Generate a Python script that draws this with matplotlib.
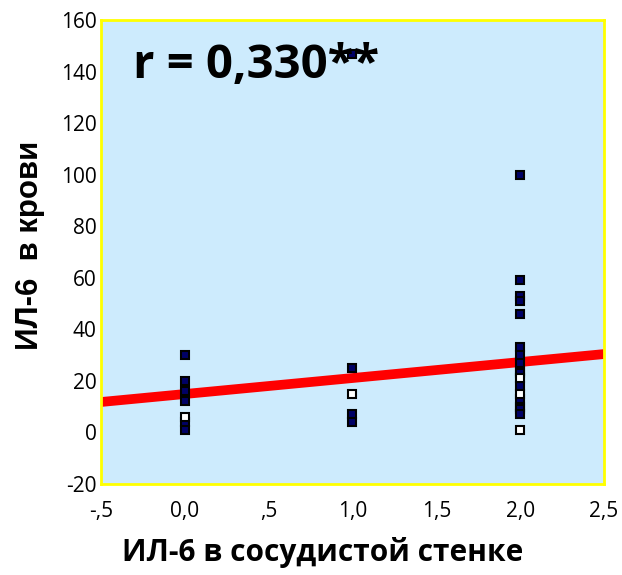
import matplotlib.pyplot as plt

plt.rcParams["axes.unicode_minus"] = False

# значения
x0_filled = [30, 20, 16, 12, 4, 1]
x0_hollow = [6]
x1_filled = [147, 25, 7, 4]
x1_hollow = [15]
x2_filled = [100, 59, 53, 51, 46, 33, 30, 27, 24, 23, 18, 13, 10, 9, 7]
x2_hollow = [21, 15, 1]

fit_x = [-0.5, 2.5]
fit_y = [11.8, 30.4]

xticks = [-0.5, 0.0, 0.5, 1.0, 1.5, 2.0, 2.5]
xtick_labels = ["-,5", "0,0", ",5", "1,0", "1,5", "2,0", "2,5"]
yticks = [-20, 0, 20, 40, 60, 80, 100, 120, 140, 160]

fig = plt.figure(figsize=(6.22, 5.75), dpi=100)
ax = fig.add_axes([0.1624, 0.1583, 0.8086, 0.8069])
ax.set_facecolor("#cdebfd")
for s in ax.spines.values():
    s.set_color("#ffff00")
    s.set_linewidth(2)

ax.plot(fit_x, fit_y, color="#ff0000", lw=7, solid_capstyle="butt", zorder=2)

filled = [(0, x0_filled), (1, x1_filled), (2, x2_filled)]
hollow = [(0, x0_hollow), (1, x1_hollow), (2, x2_hollow)]
for xv, ys in filled:
    ax.plot([xv] * len(ys), ys, ls="none", marker="s", ms=6,
            mfc="#000066", mec="black", mew=1.5, zorder=3)
for xv, ys in hollow:
    ax.plot([xv] * len(ys), ys, ls="none", marker="s", ms=6,
            mfc="white", mec="black", mew=1.5, zorder=3)

ax.set_xlim(-0.5, 2.5)
ax.set_ylim(-20, 160)
ax.set_xticks(xticks)
ax.set_xticklabels(xtick_labels)
ax.set_yticks(yticks)
ax.tick_params(length=0, labelsize=15, pad=3)
ax.tick_params(axis="x", pad=12)
for lab in ax.get_xticklabels() + ax.get_yticklabels():
    lab.set_fontfamily("Open Sans")

ax.text(-0.31, 142.5, "r = 0,330**", fontsize=34, fontweight="bold",
        family="Open Sans", va="center", ha="left", zorder=4)

ax.set_xlabel("ИЛ-6 в сосудистой стенке", fontsize=21.5, fontweight="bold",
              family="Open Sans")
ax.xaxis.set_label_coords(0.44, -0.115)
ax.set_ylabel("ИЛ-6  в крови", fontsize=22.5, fontweight="bold",
              family="Liberation Sans")
ax.yaxis.set_label_coords(-0.111, 0.515)

fig.savefig("out.png", dpi=100)
